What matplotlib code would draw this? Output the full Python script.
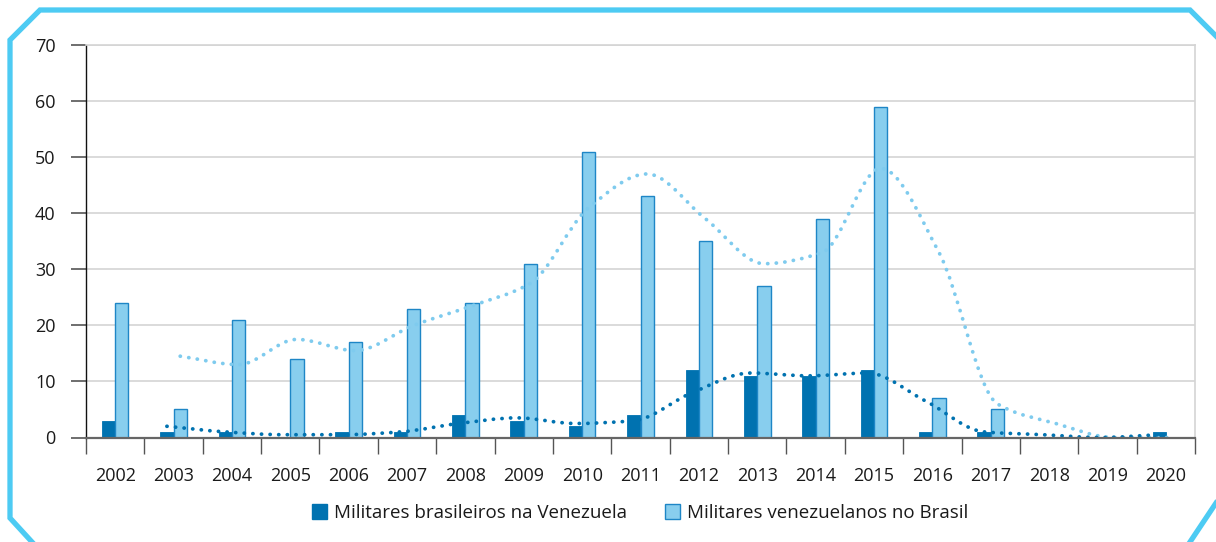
import matplotlib
matplotlib.use("Agg")
import matplotlib.pyplot as plt
import numpy as np
from matplotlib.path import Path
from matplotlib.patches import PathPatch, Patch
from matplotlib.lines import Line2D

plt.rcParams['font.family'] = ['Open Sans', 'DejaVu Sans']

years = ["2002", "2003", "2004", "2005", "2006", "2007", "2008", "2009", "2010", "2011",
         "2012", "2013", "2014", "2015", "2016", "2017", "2018", "2019", "2020"]
brasileiros_na_venezuela = [3, 1, 1, 0, 1, 1, 4, 3, 2, 4, 12, 11, 11, 12, 1, 1, 0, 0, 1]
venezuelanos_no_brasil = [24, 5, 21, 14, 17, 23, 24, 31, 51, 43, 35, 27, 39, 59, 7, 5, 0, 0, 0]
# dotted trend lines (2-period moving average), from 2003 on
trend_brasileiros = [2, 1, 0.5, 0.5, 1, 2.5, 3.5, 2.5, 3, 8, 11.5, 11, 11.5, 6.5, 1, 0.5, 0, 0.5]
trend_venezuelanos = [14.5, 13, 17.5, 15.5, 20, 23.5, 27.5, 41, 47, 39, 31, 33, 48, 33, 6, 2.5, 0, 0]
legend_labels = ["Militares brasileiros na Venezuela", "Militares venezuelanos no Brasil"]
yticks = [0, 10, 20, 30, 40, 50, 60, 70]

DARK = "#0072B0"
LIGHT = "#88CEEE"
LIGHT_EDGE = "#1E86C6"
FRAME = "#4DCBF3"

W, H = 1216, 542
fig = plt.figure(figsize=(W / 100, H / 100), dpi=100)
fig.patch.set_facecolor("white")

left, right, top, bottom = 86, 1195, 45, 437.5
ax = fig.add_axes([left / W, 1 - bottom / H, (right - left) / W, (bottom - top) / H])

x = np.arange(len(years))
bw = 0.228
ax.bar(x - bw / 2, brasileiros_na_venezuela, width=bw, color=DARK, edgecolor=DARK, linewidth=0.6, zorder=3)
ax.bar(x + bw / 2, venezuelanos_no_brasil, width=bw, color=LIGHT, edgecolor=LIGHT_EDGE, linewidth=1.0, zorder=3)


def smooth_path(xs, ys):
    """Monotone (shape-preserving) cubic curve through the points, as Bezier path."""
    xs = np.asarray(xs, float)
    ys = np.asarray(ys, float)
    n = len(xs)
    h = np.diff(xs)
    d = np.diff(ys) / h
    m = np.zeros(n)
    m[0], m[-1] = d[0], d[-1]
    for i in range(1, n - 1):
        if d[i - 1] * d[i] <= 0:
            m[i] = 0.0
        else:
            m[i] = 2.0 / (1.0 / d[i - 1] + 1.0 / d[i])
    verts = [(xs[0], ys[0])]
    codes = [Path.MOVETO]
    for i in range(n - 1):
        hh = h[i] / 3.0
        verts += [(xs[i] + hh, ys[i] + m[i] * hh),
                  (xs[i + 1] - hh, ys[i + 1] - m[i + 1] * hh),
                  (xs[i + 1], ys[i + 1])]
        codes += [Path.CURVE4] * 3
    return Path(verts, codes)


tx = x[1:]
for xs, ys, col in [(tx + bw / 2, trend_venezuelanos, "#7FCBEE"),
                    (tx - bw / 2, trend_brasileiros, DARK)]:
    pp = PathPatch(smooth_path(xs, ys), facecolor="none", edgecolor=col, linewidth=2.7,
                   linestyle=(0, (0.05, 2.25)), capstyle="round", zorder=4)
    ax.add_patch(pp)

ax.set_xlim(-0.5, len(years) - 0.5)
ax.set_ylim(0, 70)
ax.set_yticks(yticks)
ax.set_yticklabels([str(v) for v in yticks])
ax.yaxis.grid(True, color="#D4D4D4", linewidth=1.2, zorder=0)
ax.set_axisbelow(True)

ax.set_xticks(x)
ax.set_xticklabels(years)
ax.set_xticks(np.arange(-0.5, len(years), 1.0), minor=True)
ax.tick_params(axis="x", which="major", length=0, pad=21, labelsize=13, labelcolor="#1a1a1a")
ax.tick_params(axis="x", which="minor", length=11.5, width=1.0, color="#555555", direction="out")
ax.tick_params(axis="y", which="major", length=10.8, width=1.2, color="#555555", pad=11,
               labelsize=13, labelcolor="#1a1a1a")

for s in ["top", "right"]:
    ax.spines[s].set_color("#D4D4D4")
    ax.spines[s].set_linewidth(1.2)
ax.spines["left"].set_color("#111111")
ax.spines["left"].set_linewidth(1.0)
ax.spines["bottom"].set_color("#666666")
ax.spines["bottom"].set_linewidth(1.6)
ax.spines["bottom"].set_zorder(5)

handles = [Patch(facecolor=DARK, edgecolor=DARK), Patch(facecolor=LIGHT, edgecolor=LIGHT_EDGE)]
fig.legend(handles, legend_labels, loc="center", bbox_to_anchor=(640 / W, 1 - 513 / H),
           ncol=2, frameon=False, fontsize=13.5, handlelength=0.8, handleheight=0.8,
           handletextpad=0.4, columnspacing=2.0, labelcolor="#1a1a1a")

# octagonal frame
fx = [32, 10, 10, 40, 1190, 1216]
fy = [542, 518, 40, 10, 10, 36]
fig.add_artist(Line2D([v / W for v in fx], [1 - v / H for v in fy], color=FRAME, linewidth=3.8,
                      solid_joinstyle="miter", transform=fig.transFigure))
fig.add_artist(Line2D([1216 / W, 1190 / W], [1 - 503 / H, 1 - 542 / H], color=FRAME, linewidth=3.8,
                      transform=fig.transFigure))

fig.savefig("out.png", dpi=100)
